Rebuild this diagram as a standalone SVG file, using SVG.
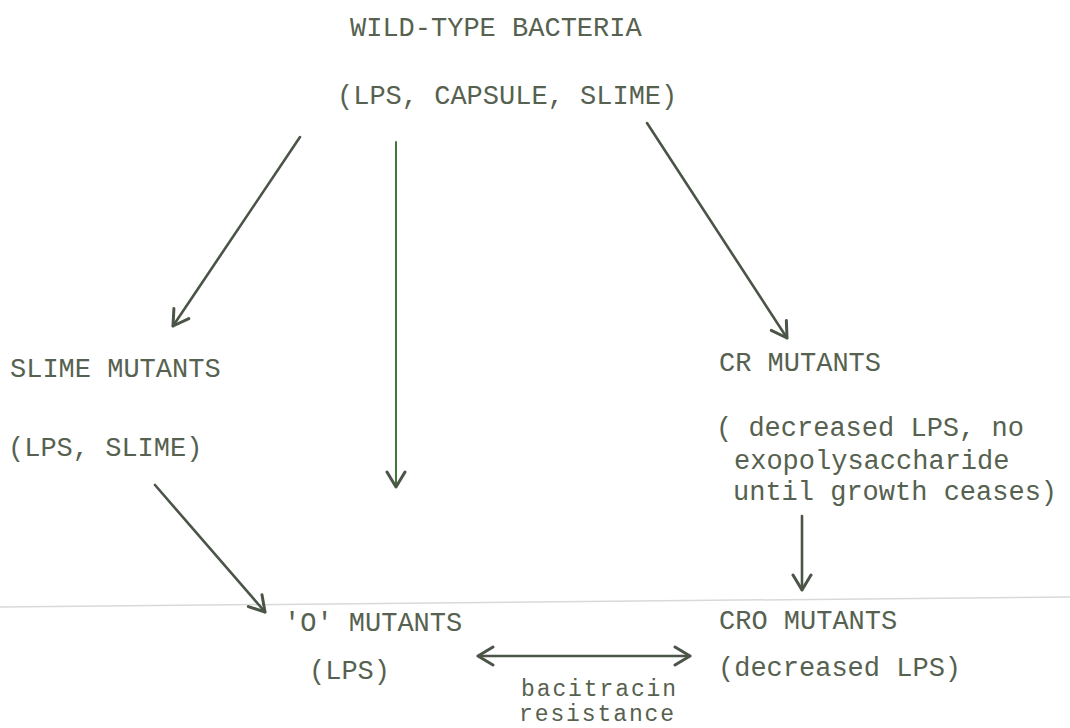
<svg xmlns="http://www.w3.org/2000/svg" width="1070" height="728" viewBox="0 0 1070 728">
  <style>
    .t { font-family: "Liberation Mono", "Courier New", monospace; font-size: 27px; fill: #56614f; }
    .small { font-size: 23px; letter-spacing: 1.9px; }
    .link { stroke: #4b5547; stroke-width: 2.6; fill: none; stroke-linecap: round; }
    .thin { stroke: #3f7a3a; stroke-width: 2; }
    .fold { stroke: #d9d9d9; stroke-width: 1.5; }
  </style>
  <defs>
    <marker id="head" viewBox="-18 -11 20 22" refX="0" refY="0" markerWidth="20" markerHeight="22" markerUnits="userSpaceOnUse" orient="auto-start-reverse">
      <path d="M-15,-9 L0,0 L-15,9" fill="none" stroke="#4b5547" stroke-width="3" stroke-linecap="round" stroke-linejoin="round"/>
    </marker>
  </defs>
  <rect width="1070" height="728" fill="#ffffff"/>
  <line class="fold" x1="0" y1="607" x2="1070" y2="597"/>

  <g id="wild-type">
    <text class="t" x="350" y="36">WILD-TYPE BACTERIA</text>
    <text class="t" x="337" y="104">(LPS, CAPSULE, SLIME)</text>
  </g>
  <g id="slime-mutants">
    <text class="t" x="10" y="377">SLIME MUTANTS</text>
    <text class="t" x="8" y="456">(LPS, SLIME)</text>
  </g>
  <g id="cr-mutants">
    <text class="t" x="719" y="371">CR MUTANTS</text>
    <text class="t" x="716" y="436">( decreased LPS, no</text>
    <text class="t" x="734" y="469">exopolysaccharide</text>
    <text class="t" x="733" y="500">until growth ceases)</text>
  </g>
  <g id="o-mutants">
    <text class="t" x="284" y="631">'O' MUTANTS</text>
    <text class="t" x="309" y="679">(LPS)</text>
  </g>
  <g id="cro-mutants">
    <text class="t" x="719" y="629">CRO MUTANTS</text>
    <text class="t" x="718" y="676">(decreased LPS)</text>
  </g>
  <g id="bacitracin-label">
    <text class="t small" x="521" y="696">bacitracin</text>
    <text class="t small" x="519" y="721">resistance</text>
  </g>

  <g id="connectors">
    <line class="link" x1="300" y1="137" x2="173" y2="326" marker-end="url(#head)"/>
    <line class="link thin" x1="396" y1="142" x2="396" y2="487" marker-end="url(#head)"/>
    <line class="link" x1="647" y1="123" x2="787" y2="338" marker-end="url(#head)"/>
    <line class="link" x1="155" y1="485" x2="265" y2="612" marker-end="url(#head)"/>
    <line class="link" x1="802" y1="516" x2="802" y2="590" marker-end="url(#head)"/>
    <line class="link" x1="478" y1="656" x2="690" y2="656" marker-start="url(#head)" marker-end="url(#head)"/>
  </g>
</svg>
